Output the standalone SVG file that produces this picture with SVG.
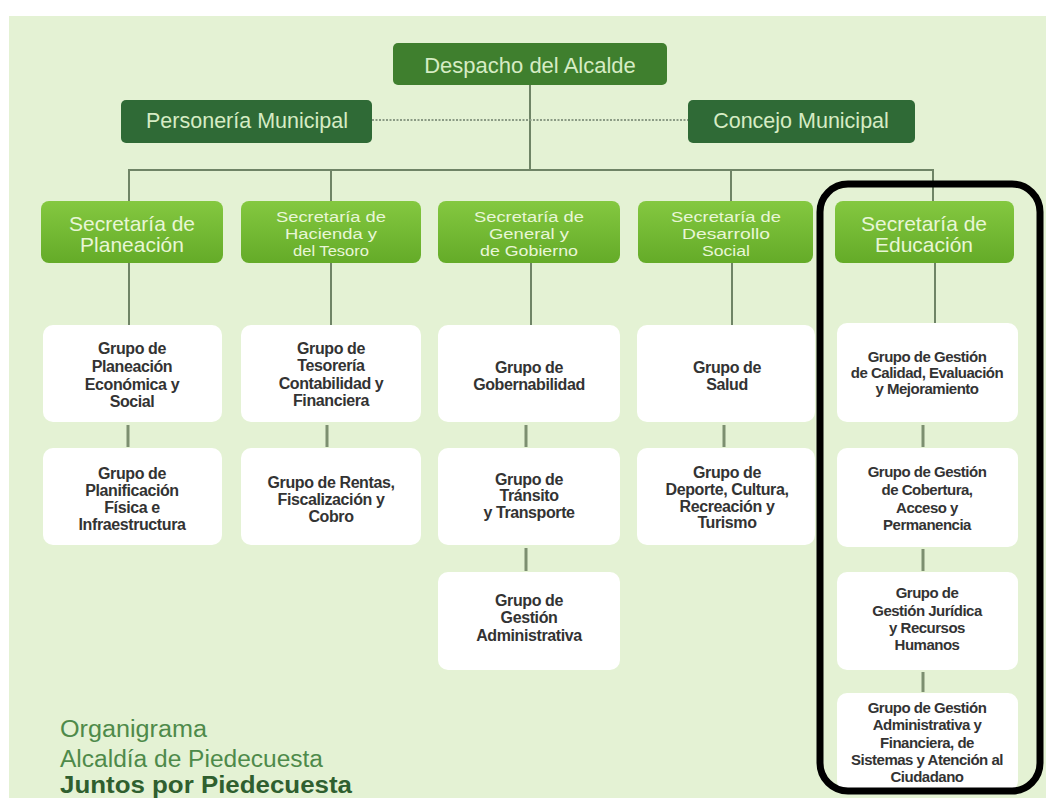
<svg xmlns="http://www.w3.org/2000/svg" width="1046" height="798" viewBox="0 0 1046 798">
<defs>
<linearGradient id="sg" x1="0" y1="0" x2="0" y2="1">
<stop offset="0" stop-color="#84c840"/>
<stop offset="1" stop-color="#64ab28"/>
</linearGradient>
<style>
.top{fill:#3f7f2e}
.side{fill:#2f6a36}
.sec{fill:url(#sg)}
.grp{fill:#ffffff}
.tl{font-family:"Liberation Sans",Arial,sans-serif;fill:#d6ecc4;text-anchor:middle}
.ts{font-family:"Liberation Sans",Arial,sans-serif;fill:#e8f6d6;text-anchor:middle}
.t3{font-family:"Liberation Sans",Arial,sans-serif;fill:#e8f6d6;text-anchor:middle;font-size:15.5px}
.tg{font-family:"Liberation Sans",Arial,sans-serif;fill:#333333;font-weight:bold;text-anchor:middle;font-size:16px;letter-spacing:-0.4px}
.tr{font-family:"Liberation Sans",Arial,sans-serif;fill:#333333;font-weight:bold;text-anchor:middle;font-size:15px;letter-spacing:-0.5px}
.ln{stroke:#6f8466;stroke-width:2;fill:none}
.sh{stroke:#7c8f70;stroke-width:3;fill:none}
</style>
</defs>
<rect x="9" y="16" width="1037" height="782" fill="#e4f2d4"/>
<g id="connectors">
<line class="ln" x1="530" y1="85" x2="530" y2="170"/>
<line x1="372" y1="120" x2="688" y2="120" stroke="#8a9a84" stroke-width="2" stroke-dasharray="2,1.5"/>
<polyline class="ln" points="129,201 129,170 933,170 933,201"/>
<line class="ln" x1="331" y1="170" x2="331" y2="201"/>
<line class="ln" x1="731" y1="170" x2="731" y2="201"/>
<line class="ln" x1="129" y1="263" x2="129" y2="325"/>
<line class="ln" x1="331" y1="263" x2="331" y2="325"/>
<line class="ln" x1="531" y1="263" x2="531" y2="325"/>
<line class="ln" x1="732" y1="263" x2="732" y2="325"/>
<line class="ln" x1="935" y1="263" x2="935" y2="323"/>
<line class="sh" x1="128" y1="425" x2="128" y2="447"/>
<line class="sh" x1="327" y1="425" x2="327" y2="447"/>
<line class="sh" x1="526" y1="425" x2="526" y2="447"/>
<line class="sh" x1="526" y1="548" x2="526" y2="571"/>
<line class="sh" x1="724" y1="425" x2="724" y2="447"/>
<line class="sh" x1="923" y1="425" x2="923" y2="447"/>
<line class="sh" x1="923" y1="549" x2="923" y2="571"/>
<line class="sh" x1="923" y1="672" x2="923" y2="692"/>
</g>
<g id="despacho"><rect class="top" x="393" y="43" width="274" height="42" rx="5"/><text class="tl" x="530" y="73" font-size="22">Despacho del Alcalde</text></g>
<g id="personeria"><rect class="side" x="121" y="100" width="251" height="43" rx="5"/><text class="tl" x="247" y="128" font-size="21.5">Personería Municipal</text></g>
<g id="concejo"><rect class="side" x="688" y="100" width="227" height="43" rx="5"/><text class="tl" x="801" y="128" font-size="21.5">Concejo Municipal</text></g>

<g id="sec-planeacion"><rect class="sec" x="41" y="201" width="182" height="62" rx="8"/><text class="ts" x="132" y="231" font-size="21">Secretaría de</text><text class="ts" x="132" y="252" font-size="21">Planeación</text></g>
<g id="sec-hacienda"><rect class="sec" x="241" y="201" width="180" height="62" rx="8"/><text class="t3" x="331" y="222" textLength="110" lengthAdjust="spacingAndGlyphs">Secretaría de</text><text class="t3" x="331" y="239" textLength="92" lengthAdjust="spacingAndGlyphs">Hacienda y</text><text class="t3" x="331" y="256" textLength="76" lengthAdjust="spacingAndGlyphs">del Tesoro</text></g>
<g id="sec-general"><rect class="sec" x="438" y="201" width="182" height="62" rx="8"/><text class="t3" x="529" y="222" textLength="110" lengthAdjust="spacingAndGlyphs">Secretaría de</text><text class="t3" x="529" y="239" textLength="80" lengthAdjust="spacingAndGlyphs">General y</text><text class="t3" x="529" y="256" textLength="98" lengthAdjust="spacingAndGlyphs">de Gobierno</text></g>
<g id="sec-desarrollo"><rect class="sec" x="638" y="201" width="175" height="62" rx="8"/><text class="t3" x="726" y="222" textLength="110" lengthAdjust="spacingAndGlyphs">Secretaría de</text><text class="t3" x="726" y="239" textLength="88" lengthAdjust="spacingAndGlyphs">Desarrollo</text><text class="t3" x="726" y="256" textLength="48" lengthAdjust="spacingAndGlyphs">Social</text></g>
<g id="sec-educacion"><rect class="sec" x="835" y="201" width="179" height="62" rx="8"/><text class="ts" x="924" y="231" font-size="21">Secretaría de</text><text class="ts" x="924" y="252" font-size="21">Educación</text></g>

<g id="g-planeacion"><rect class="grp" x="43" y="325" width="179" height="97" rx="10"/><text class="tg" x="132" y="354">Grupo de</text><text class="tg" x="132" y="372">Planeación</text><text class="tg" x="132" y="390">Económica y</text><text class="tg" x="132" y="407">Social</text></g>
<g id="g-planificacion"><rect class="grp" x="43" y="448" width="179" height="97" rx="10"/><text class="tg" x="132" y="479">Grupo de</text><text class="tg" x="132" y="496">Planificación</text><text class="tg" x="132" y="513">Física e</text><text class="tg" x="132" y="530">Infraestructura</text></g>
<g id="g-tesoreria"><rect class="grp" x="241" y="325" width="180" height="97" rx="10"/><text class="tg" x="331" y="354">Grupo de</text><text class="tg" x="331" y="371">Tesorería</text><text class="tg" x="331" y="389">Contabilidad y</text><text class="tg" x="331" y="406">Financiera</text></g>
<g id="g-rentas"><rect class="grp" x="241" y="448" width="180" height="97" rx="10"/><text class="tg" x="331" y="488">Grupo de Rentas,</text><text class="tg" x="331" y="505">Fiscalización y</text><text class="tg" x="331" y="522">Cobro</text></g>
<g id="g-gobernabilidad"><rect class="grp" x="438" y="325" width="182" height="97" rx="10"/><text class="tg" x="529" y="373">Grupo de</text><text class="tg" x="529" y="390">Gobernabilidad</text></g>
<g id="g-transito"><rect class="grp" x="438" y="448" width="182" height="97" rx="10"/><text class="tg" x="529" y="485">Grupo de</text><text class="tg" x="529" y="501">Tránsito</text><text class="tg" x="529" y="518">y Transporte</text></g>
<g id="g-gestion-adm"><rect class="grp" x="438" y="572" width="182" height="98" rx="10"/><text class="tg" x="529" y="606">Grupo de</text><text class="tg" x="529" y="623">Gestión</text><text class="tg" x="529" y="641">Administrativa</text></g>
<g id="g-salud"><rect class="grp" x="637" y="325" width="178" height="97" rx="10"/><text class="tg" x="727" y="373">Grupo de</text><text class="tg" x="727" y="390">Salud</text></g>
<g id="g-deporte"><rect class="grp" x="637" y="448" width="178" height="97" rx="10"/><text class="tg" x="727" y="478">Grupo de</text><text class="tg" x="727" y="495">Deporte, Cultura,</text><text class="tg" x="727" y="512">Recreación y</text><text class="tg" x="727" y="528">Turismo</text></g>
<g id="g-calidad"><rect class="grp" x="837" y="323" width="181" height="99" rx="10"/><text class="tr" x="927" y="362">Grupo de Gestión</text><text class="tr" x="927" y="378">de Calidad, Evaluación</text><text class="tr" x="927" y="394">y Mejoramiento</text></g>
<g id="g-cobertura"><rect class="grp" x="837" y="448" width="181" height="99" rx="10"/><text class="tr" x="927" y="477">Grupo de Gestión</text><text class="tr" x="927" y="495">de Cobertura,</text><text class="tr" x="927" y="513">Acceso y</text><text class="tr" x="927" y="530">Permanencia</text></g>
<g id="g-juridica"><rect class="grp" x="837" y="572" width="181" height="98" rx="10"/><text class="tr" x="927" y="598">Grupo de</text><text class="tr" x="927" y="616">Gestión Jurídica</text><text class="tr" x="927" y="633">y Recursos</text><text class="tr" x="927" y="650">Humanos</text></g>
<g id="g-administrativa"><rect class="grp" x="837" y="693" width="181" height="98" rx="10"/><text class="tr" x="927" y="713">Grupo de Gestión</text><text class="tr" x="927" y="730">Administrativa y</text><text class="tr" x="927" y="748">Financiera, de</text><text class="tr" x="927" y="765">Sistemas y Atención al</text><text class="tr" x="927" y="782">Ciudadano</text></g>

<g id="highlight"><rect x="820" y="184" width="220" height="607" rx="28" fill="none" stroke="#000000" stroke-width="7"/></g>

<g id="title">
<text x="60" y="737" font-family="'Liberation Sans',Arial,sans-serif" font-size="23" fill="#4e8a4a" textLength="147" lengthAdjust="spacingAndGlyphs">Organigrama</text>
<text x="60" y="767" font-family="'Liberation Sans',Arial,sans-serif" font-size="23" fill="#4e8a4a" textLength="263" lengthAdjust="spacingAndGlyphs">Alcaldía de Piedecuesta</text>
<text x="60" y="793" font-family="'Liberation Sans',Arial,sans-serif" font-size="23" font-weight="bold" fill="#2f5f2f" textLength="292" lengthAdjust="spacingAndGlyphs">Juntos por Piedecuesta</text>
</g>
</svg>
